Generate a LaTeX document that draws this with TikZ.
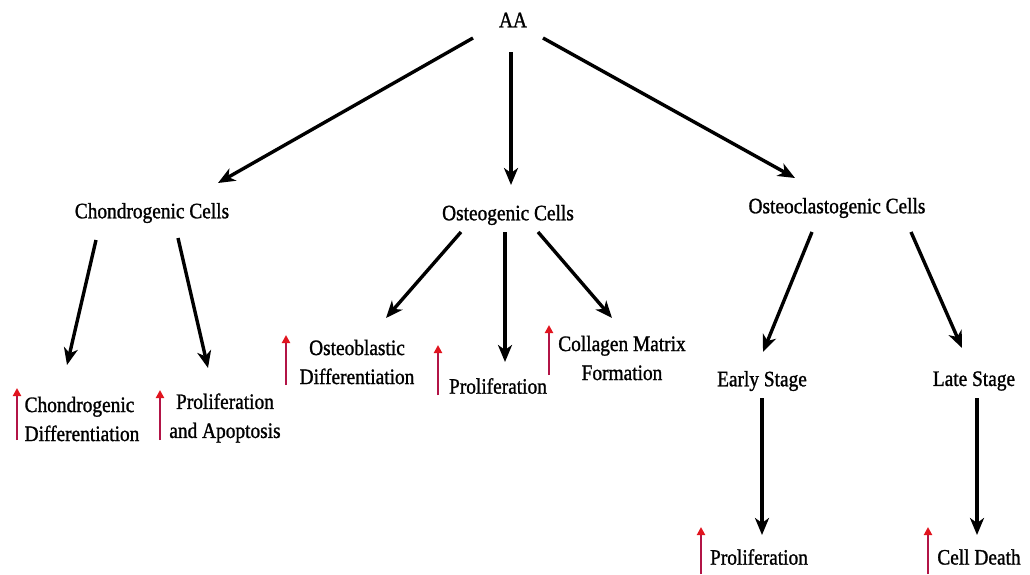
\documentclass[tikz,border=0pt]{standalone}
\usepackage{fontspec}
\setmainfont{Liberation Serif}[FakeStretch=0.88,FakeBold=1.2]
\usetikzlibrary{arrows.meta}
\definecolor{upline}{RGB}{178,20,70}
\definecolor{uphead}{RGB}{225,20,30}
\begin{document}
\begin{tikzpicture}[x=1pt,y=-1pt,
  lbl/.style={inner sep=0pt,align=center,font=\fontsize{22}{29}\selectfont},
  arr/.style={line width=3.4pt,-{Stealth[length=17pt,width=14pt,inset=5pt]}},
  up/.style={line width=2.2pt,draw=upline,-{Triangle[length=8pt,width=8pt,fill=uphead,color=uphead]}}]
\useasboundingbox (0,0) rectangle (1030,574);
\node[lbl] (aa) at (513,20) {AA};
\node[lbl] (cc) at (152,213) {Chondrogenic Cells};
\node[lbl] (oc) at (508,215) {Osteogenic Cells};
\node[lbl] (ocl) at (837,208) {Osteoclastogenic Cells};
\node[lbl,align=left] (cd) at (82,419) {Chondrogenic\\Differentiation};
\node[lbl] (pa) at (225,418) {Proliferation\\and Apoptosis};
\node[lbl] (ob) at (357,362) {Osteoblastic\\Differentiation};
\node[lbl] (po) at (498,386) {Proliferation};
\node[lbl] (cm) at (622,358) {Collagen Matrix\\Formation};
\node[lbl] (es) at (762,381) {Early Stage};
\node[lbl] (ls) at (974,381) {Late Stage};
\node[lbl] (pb) at (759,557) {Proliferation};
\node[lbl] (cde) at (979,557) {Cell Death};
% black arrows
\draw[arr] ([shift={(-40,18)}]aa.center) -- ([shift={(66,-30)}]cc.center);
\draw[arr] ([shift={(-2,32)}]aa.center) -- ([shift={(3,-30)}]oc.center);
\draw[arr] ([shift={(30,18)}]aa.center) -- ([shift={(-42,-30)}]ocl.center);
\draw[arr] ([shift={(-56,27)}]cc.center) -- ([shift={(-15,-54)}]cd.center);
\draw[arr] ([shift={(26,25)}]cc.center) -- ([shift={(-17,-50)}]pa.center);
\draw[arr] ([shift={(-47,17)}]oc.center) -- ([shift={(29,-44)}]ob.center);
\draw[arr] ([shift={(-3,17)}]oc.center) -- ([shift={(7,-24)}]po.center);
\draw[arr] ([shift={(30,17)}]oc.center) -- ([shift={(-10,-40)}]cm.center);
\draw[arr] ([shift={(-25,24)}]ocl.center) -- ([shift={(1,-29)}]es.center);
\draw[arr] ([shift={(74,24)}]ocl.center) -- ([shift={(-12,-33)}]ls.center);
\draw[arr] ([shift={(0,17)}]es.center) -- ([shift={(3,-22)}]pb.center);
\draw[arr] ([shift={(3,17)}]ls.center) -- ([shift={(-2,-22)}]cde.center);
% red up arrows
\draw[up] ([shift={(-65,21)}]cd.center) -- ([shift={(-65,-31)}]cd.center);
\draw[up] ([shift={(-65,22)}]pa.center) -- ([shift={(-65,-28)}]pa.center);
\draw[up] ([shift={(-71,23)}]ob.center) -- ([shift={(-71,-27)}]ob.center);
\draw[up] ([shift={(-60,9)}]po.center) -- ([shift={(-60,-41)}]po.center);
\draw[up] ([shift={(-73,17)}]cm.center) -- ([shift={(-73,-33)}]cm.center);
\draw[up] ([shift={(-58,17)}]pb.center) -- ([shift={(-58,-30)}]pb.center);
\draw[up] ([shift={(-51,17)}]cde.center) -- ([shift={(-51,-30)}]cde.center);
\end{tikzpicture}
\end{document}
